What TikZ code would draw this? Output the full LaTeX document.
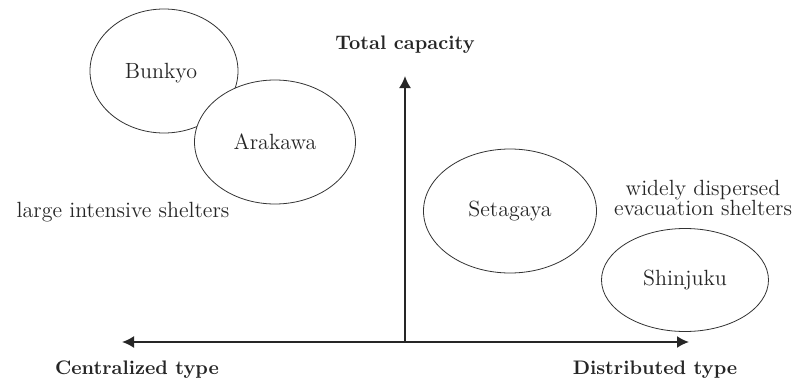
\documentclass[tikz,border=0pt]{standalone}
\usepackage{tikz}
\usetikzlibrary{positioning}
\usetikzlibrary{arrows.meta}
\usetikzlibrary{shapes.geometric}

\begin{document}
\begin{tikzpicture}[x=0.5pt, y=-0.5pt, >={Latex[length=6pt, width=6pt]}, font=\fontsize{11}{10}\selectfont, text=black!85]
		\tikzstyle{ward}=[draw=black!80, ellipse, fill=white, line width=0.4pt, inner sep=0pt]
		\tikzstyle{axis}=[draw=black!85, line width=0.9pt]
		\tikzstyle{axislabel}=[font=\fontsize{9.8}{12}\selectfont\bfseries, inner sep=0pt]
		\useasboundingbox (0,0) rectangle (799,380);
		
		\coordinate (o) at (405,342);
		\coordinate (ytop) at (405,76);
		\coordinate (xleft) at (122,342);
		\coordinate (xright) at (689,342);
		
		\draw[axis, ->] (o) -- (ytop);
		\draw[axis, <->] (xleft) -- (xright);
		
		\node[ward, minimum width=74pt, minimum height=62pt] (bunkyo) at (164,71) {};
		\node at (161,73) {Bunkyo};
		\node[ward, minimum width=80.5pt, minimum height=62pt] (arakawa) at (275,142) {Arakawa};
		\node[ward, minimum width=86.5pt, minimum height=62pt] (setagaya) at (510,211) {Setagaya};
		\node[ward, minimum width=83.5pt, minimum height=51.5pt] (shinjuku) at (685,280) {Shinjuku};
		
		\node[axislabel, above = 11pt of ytop] (ylab) {Total capacity};
		\node[axislabel, below = 9pt of xleft, xshift=7.5pt] (clab) {Centralized type};
		\node[axislabel, below = 9pt of xright, xshift=-17pt] (dlab) {Distributed type};
		
		\node[inner sep=0pt] (large) at (123,212) {large intensive shelters};
		\node[inner sep=0pt, align=center] (wide) at (703,198) {widely dispersed\\ evacuation shelters};
		\end{tikzpicture}
\end{document}
